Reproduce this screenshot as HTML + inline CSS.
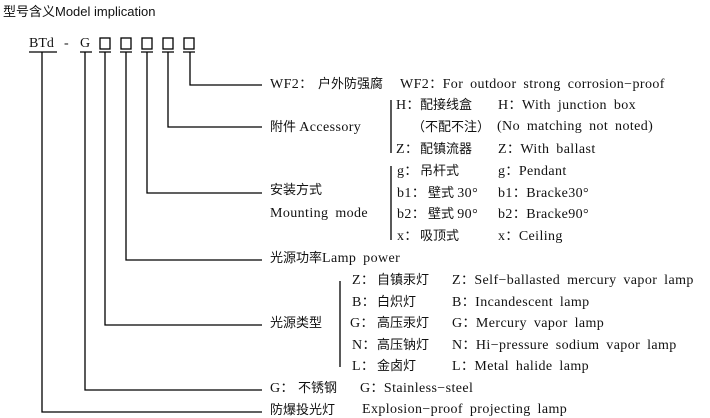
<!DOCTYPE html>
<html><head><meta charset="utf-8"><style>
body{margin:0;width:710px;height:418px;background:#fff;position:relative;overflow:hidden;font-family:"Liberation Serif","Noto Sans CJK SC",serif;font-size:13px;color:#111}
.t{position:absolute;white-space:nowrap;line-height:16px}
.e{font-size:14px;letter-spacing:0.4px;word-spacing:3px}
.s{font-family:"Liberation Sans","Noto Sans CJK SC",sans-serif}
</style></head><body>
<div class="t s" style="left:3px;top:4px;font-size:13px">型号含义Model implication</div>
<div class="t" style="left:29px;top:36px;font-size:14px">BTd</div>
<div class="t" style="left:64px;top:36px;font-size:14px">-</div>
<div class="t" style="left:80px;top:36px;font-size:14px">G</div>
<svg width="710" height="418" style="position:absolute;left:0;top:0" stroke="#000" stroke-width="1.3" fill="none">
<rect x="100" y="38" width="10" height="11"/><rect x="121" y="38" width="10" height="11"/><rect x="142" y="38" width="10" height="11"/><rect x="163" y="38" width="10" height="11"/><rect x="184" y="38" width="10" height="11"/>
<path d="M29 52H57M80 52H92M99 52H111M120 52H132M141 52H153M162 52H174M183 52H195"/>
<path d="M42 52V412H262M85 52V390H262M105 52V325H262M126 52V260H262M147 52V193H262M168 52V127H262M190 52V85H262"/>
<path d="M391 100V153M391 166V240M340 281V367"/>
</svg>
<div class="t e" style="left:270px;top:76px">WF2<span style="font-size:13px">：</span></div>
<div class="t" style="left:318px;top:76px">户外防强腐</div>
<div class="t e" style="left:400px;top:76px">WF2<span style="font-size:13px">：</span>For outdoor strong corrosion−proof</div>
<div class="t" style="left:270px;top:119px">附件 <span class="e">Accessory</span></div>
<div class="t e" style="left:396px;top:97px">H<span style="font-size:13px">：</span></div>
<div class="t" style="left:420px;top:97px">配接线盒</div>
<div class="t e" style="left:498px;top:97px">H<span style="font-size:13px">：</span>With junction box</div>
<div class="t" style="left:412px;top:119px">（不配不注）</div>
<div class="t e" style="left:497px;top:119px">(No matching not noted)</div>
<div class="t e" style="left:396px;top:141px">Z<span style="font-size:13px">：</span></div>
<div class="t" style="left:420px;top:141px">配镇流器</div>
<div class="t e" style="left:498px;top:141px">Z<span style="font-size:13px">：</span>With ballast</div>
<div class="t" style="left:270px;top:182px">安装方式</div>
<div class="t e" style="left:270px;top:206px">Mounting mode</div>
<div class="t e" style="left:397px;top:163px">g<span style="font-size:13px">：</span></div>
<div class="t" style="left:420px;top:163px">吊杆式</div>
<div class="t e" style="left:498px;top:163px">g<span style="font-size:13px">：</span>Pendant</div>
<div class="t e" style="left:397px;top:185px">b1<span style="font-size:13px">：</span></div>
<div class="t" style="left:428px;top:185px">壁式 <span class="e" style="word-spacing:0">30°</span></div>
<div class="t e" style="left:498px;top:185px">b1<span style="font-size:13px">：</span>Bracke30°</div>
<div class="t e" style="left:397px;top:206px">b2<span style="font-size:13px">：</span></div>
<div class="t" style="left:428px;top:206px">壁式 <span class="e" style="word-spacing:0">90°</span></div>
<div class="t e" style="left:498px;top:206px">b2<span style="font-size:13px">：</span>Bracke90°</div>
<div class="t e" style="left:397px;top:228px">x<span style="font-size:13px">：</span></div>
<div class="t" style="left:420px;top:228px">吸顶式</div>
<div class="t e" style="left:498px;top:228px">x<span style="font-size:13px">：</span>Ceiling</div>
<div class="t" style="left:270px;top:250px">光源功率<span class="e">Lamp power</span></div>
<div class="t" style="left:270px;top:315px">光源类型</div>
<div class="t e" style="left:352px;top:272px">Z<span style="font-size:13px">：</span></div>
<div class="t" style="left:377px;top:272px">自镇汞灯</div>
<div class="t e" style="left:452px;top:272px">Z<span style="font-size:13px">：</span>Self−ballasted mercury vapor lamp</div>
<div class="t e" style="left:352px;top:294px">B<span style="font-size:13px">：</span></div>
<div class="t" style="left:377px;top:294px">白炽灯</div>
<div class="t e" style="left:452px;top:294px">B<span style="font-size:13px">：</span>Incandescent lamp</div>
<div class="t e" style="left:350px;top:315px">G<span style="font-size:13px">：</span></div>
<div class="t" style="left:377px;top:315px">高压汞灯</div>
<div class="t e" style="left:452px;top:315px">G<span style="font-size:13px">：</span>Mercury vapor lamp</div>
<div class="t e" style="left:352px;top:337px">N<span style="font-size:13px">：</span></div>
<div class="t" style="left:377px;top:337px">高压钠灯</div>
<div class="t e" style="left:452px;top:337px">N<span style="font-size:13px">：</span>Hi−pressure sodium vapor lamp</div>
<div class="t e" style="left:352px;top:358px">L<span style="font-size:13px">：</span></div>
<div class="t" style="left:377px;top:358px">金卤灯</div>
<div class="t e" style="left:452px;top:358px">L<span style="font-size:13px">：</span>Metal halide lamp</div>
<div class="t e" style="left:270px;top:380px">G<span style="font-size:13px">：</span></div>
<div class="t" style="left:298px;top:380px">不锈钢</div>
<div class="t e" style="left:360px;top:380px">G<span style="font-size:13px">：</span>Stainless−steel</div>
<div class="t" style="left:270px;top:402px">防爆投光灯</div>
<div class="t e" style="left:362px;top:402px">Explosion−proof projecting lamp</div>
</body></html>
